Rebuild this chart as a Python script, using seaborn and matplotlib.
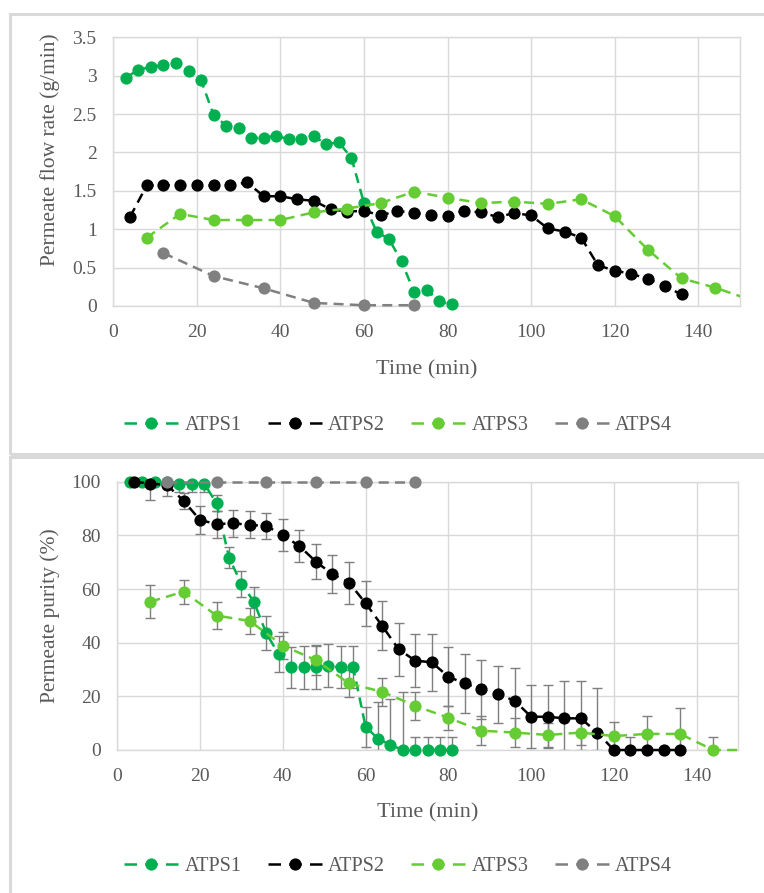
import numpy as np
import matplotlib
matplotlib.use("Agg")
import matplotlib.pyplot as plt
import seaborn as sns
from matplotlib.lines import Line2D
from matplotlib.patches import Rectangle

sns.set_theme(style="white")
plt.rcParams["font.family"] = ["Liberation Serif", "DejaVu Serif"]

# ---- data -------------------------------------------------------------
series_names = ["ATPS1", "ATPS2", "ATPS3", "ATPS4"]
series_colors = ["#00B050", "#000000", "#66CC33", "#808080"]

time_1 = [3, 6, 9, 12, 15, 18, 21, 24, 27, 30, 33, 36, 39, 42, 45, 48, 51, 54,
          57, 60, 63, 66, 69, 72, 75, 78, 81]
time_2 = [4, 8, 12, 16, 20, 24, 28, 32, 36, 40, 44, 48, 52, 56, 60, 64, 68, 72,
          76, 80, 84, 88, 92, 96, 100, 104, 108, 112, 116, 120, 124, 128, 132, 136]
time_3 = [8, 16, 24, 32, 40, 48, 56, 64, 72, 80, 88, 96, 104, 112, 120, 128,
          136, 144, 152]
time_4 = [12, 24, 36, 48, 60, 72]

flow_1 = [2.97, 3.08, 3.11, 3.14, 3.16, 3.06, 2.94, 2.49, 2.35, 2.32, 2.19, 2.19,
          2.22, 2.17, 2.17, 2.21, 2.11, 2.13, 1.93, 1.34, 0.97, 0.87, 0.58, 0.18,
          0.21, 0.06, 0.02]
flow_2 = [1.16, 1.57, 1.57, 1.58, 1.57, 1.57, 1.57, 1.61, 1.43, 1.43, 1.39, 1.37,
          1.26, 1.23, 1.24, 1.18, 1.24, 1.21, 1.19, 1.17, 1.24, 1.22, 1.16, 1.21,
          1.18, 1.01, 0.97, 0.89, 0.53, 0.46, 0.42, 0.35, 0.26, 0.15]
flow_3 = [0.89, 1.20, 1.12, 1.12, 1.12, 1.22, 1.27, 1.34, 1.49, 1.41, 1.34, 1.36,
          1.33, 1.39, 1.17, 0.73, 0.36, 0.24, 0.09]
flow_4 = [0.69, 0.39, 0.23, 0.04, 0.01, 0.01]

purity_1 = [100, 100, 100, 100, 99.3, 99.3, 99.3, 91.9, 71.7, 61.9, 55.3, 43.5,
            35.7, 30.8, 30.8, 30.8, 31.4, 30.8, 30.8, 8.7, 4.2, 1.9, 0, 0, 0, 0, 0]
purity_2 = [100, 99.3, 98.8, 92.9, 85.7, 84.2, 84.5, 83.9, 83.5, 80.1, 76.0, 70.2,
            65.5, 62.4, 54.7, 46.3, 37.5, 33.3, 32.7, 27.3, 24.8, 22.6, 20.7, 18.4,
            12.4, 12.4, 11.8, 11.8, 6.5, 0, 0, 0, 0, 0]
purity_3 = [55.3, 59.0, 50.1, 48.1, 38.9, 33.5, 24.8, 21.7, 16.5, 12.0, 7.2, 6.5,
            5.6, 6.5, 5.2, 6.0, 6.0, 0, 0]
purity_4 = [100, 100, 100, 100, 100, 100]

purity_err_1 = [0, 0, 0, 0, 3, 3, 3, 3, 4, 5, 5.6, 6.3, 6.8, 7.6, 7.9, 8, 8, 7.8,
                7.8, 7.5, 13.7, 17, 21.5, 4.7, 4.7, 4.7, 4.7]
purity_err_2 = [0, 6, 4.3, 3, 5.1, 5, 5, 5, 5, 6, 6, 6.5, 7, 7.8, 8.3, 9.2, 10, 10,
                10.7, 11, 11, 11, 10.5, 12, 11.7, 11.7, 13.9, 13.9, 16.7, 0, 5, 0,
                0, 0]
purity_err_3 = [6.1, 4.5, 5, 5, 5, 5.5, 5, 5.3, 5.3, 4.5, 5.3, 5.4, 4.5, 4.5, 5.4,
                6.8, 9.8, 4.7, 0]
purity_err_4 = [0, 0, 0, 0, 0, 0]

x_ticks = [0, 20, 40, 60, 80, 100, 120, 140]
flow_ticks = [0, 0.5, 1, 1.5, 2, 2.5, 3, 3.5]
flow_tick_labels = ["0", "0.5", "1", "1.5", "2", "2.5", "3", "3.5"]
purity_ticks = [0, 20, 40, 60, 80, 100]

times = [time_1, time_2, time_3, time_4]
flows = [flow_1, flow_2, flow_3, flow_4]
purities = [purity_1, purity_2, purity_3, purity_4]
purity_errs = [purity_err_1, purity_err_2, purity_err_3, purity_err_4]

# ---- style ------------------------------------------------------------
GRID = "#D9D9D9"
TEXT = "#595959"
DASH = (0, (4, 2.5))
TICK_FS = 14
TITLE_FS = 16
LEGEND_FS = 14.5

W, H = 764, 893
fig = plt.figure(figsize=(W / 100, H / 100), dpi=100)

# chart frames
fig.patches.append(Rectangle((10 / W, 1 - 454 / H), 800 / W, (454 - 14) / H,
                             transform=fig.transFigure, fill=False,
                             edgecolor=GRID, linewidth=2.2))
fig.patches.append(Rectangle((10 / W, -0.05), 800 / W, 0.05 + (1 - 457 / H),
                             transform=fig.transFigure, fill=False,
                             edgecolor=GRID, linewidth=2.2))


def px_axes(left, top, right, bottom):
    return fig.add_axes([left / W, 1 - bottom / H, (right - left) / W,
                         (bottom - top) / H])


ax_top = px_axes(113.3, 37.3, 740, 306)
ax_bot = px_axes(117.3, 481.7, 738, 750)


def style_axes(ax, yticks, ylabels, ylabel, ylabel_pos):
    ax.set_xlim(0, 150)
    ax.set_ylim(yticks[0], yticks[-1])
    ax.set_xticks(x_ticks)
    ax.set_xticklabels([str(v) for v in x_ticks])
    ax.set_yticks(yticks)
    ax.set_yticklabels(ylabels)
    ax.grid(True, color=GRID, linewidth=1.0)
    ax.set_axisbelow(True)
    for sp in ax.spines.values():
        sp.set_color(GRID)
        sp.set_linewidth(1.0)
    ax.tick_params(axis="both", length=0, labelsize=TICK_FS, colors=TEXT)
    ax.tick_params(axis="x", pad=13)
    ax.tick_params(axis="y", pad=12)
    ax.set_xlabel("Time (min)", fontsize=TITLE_FS, color=TEXT)
    ax.set_ylabel(ylabel, fontsize=TITLE_FS - 0.5, color=TEXT)
    ax.xaxis.set_label_coords(0.5, -0.2)
    ax.yaxis.set_label_coords(*ylabel_pos)


def draw_series(ax, t, v, color, zorder):
    sns.lineplot(x=t, y=v, ax=ax, color=color, marker="o", markersize=8.8,
                 markeredgewidth=0, linewidth=1.8, linestyle=DASH,
                 sort=False, estimator=None, errorbar=None, legend=False,
                 zorder=zorder)
    line = ax.lines[-1]
    clip = Rectangle((0, -0.08), 1, 1.16, transform=ax.transAxes)
    line.set_clip_path(clip)


# top panel: permeate flow rate
for i, (t, v) in enumerate(zip(times, flows)):
    draw_series(ax_top, t, v, series_colors[i], 3 + i)
style_axes(ax_top, flow_ticks, flow_tick_labels, "Permeate flow rate (g/min)",
           (-0.085, 0.58))

# bottom panel: permeate purity with error bars
for i, (t, v, e) in enumerate(zip(times, purities, purity_errs)):
    v_arr = np.asarray(v, dtype=float)
    e_arr = np.asarray(e, dtype=float)
    lower = np.minimum(e_arr, v_arr)
    mask = e_arr > 0
    ax_bot.errorbar(np.asarray(t)[mask], v_arr[mask],
                    yerr=[lower[mask], e_arr[mask]], fmt="none",
                    ecolor="#7F7F7F", elinewidth=1.0, capsize=3.5,
                    capthick=1.0, zorder=2)
for i, (t, v) in enumerate(zip(times, purities)):
    draw_series(ax_bot, t, v, series_colors[i], 3 + i)
style_axes(ax_bot, purity_ticks, [str(v) for v in purity_ticks],
           "Permeate purity (%)", (-0.092, 0.5))

# legends
handles = [Line2D([0], [0], color=c, linewidth=1.8, linestyle=(0, (5, 3.3)),
                  marker="o", markersize=8.8, markeredgewidth=0)
           for c in series_colors]
for y_px in (425, 866):
    fig.legend(handles, series_names, loc="center",
               bbox_to_anchor=(398 / W, 1 - y_px / H), ncol=4, frameon=False,
               fontsize=LEGEND_FS, labelcolor=TEXT, handlelength=2.7,
               handletextpad=0.3, columnspacing=1.3)

fig.savefig("out.png", dpi=100)
